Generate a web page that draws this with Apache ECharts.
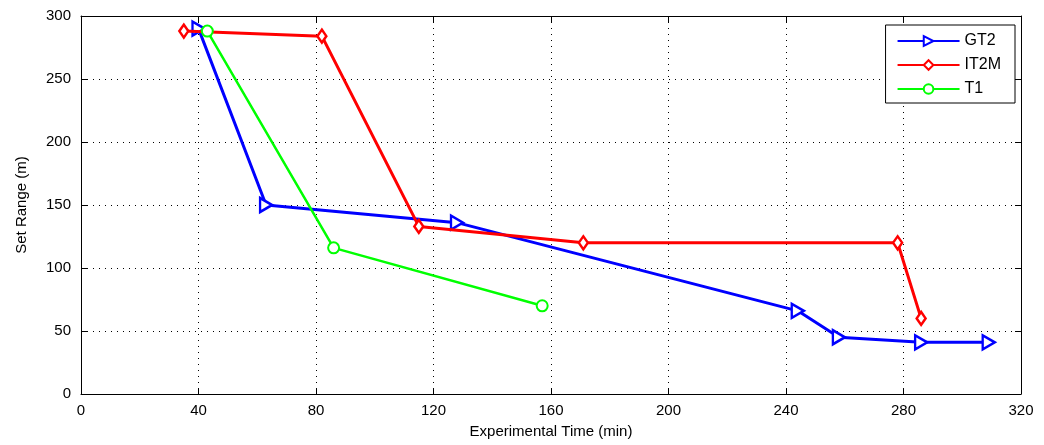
<!DOCTYPE html>
<html><head><meta charset="utf-8">
<script src="https://cdn.jsdelivr.net/npm/echarts@6/dist/echarts.min.js"></script>
<style>html,body{margin:0;padding:0;background:#fff}#c{width:1044px;height:445px}</style>
</head><body><div id="c"></div>
<script>
const seriesNames = ['GT2', 'IT2M', 'T1'];
const gt2 = [[40, 290], [63, 150], [128, 136], [244, 66], [258, 45], [286, 41], [309, 41]];
const it2m = [[35, 288], [82, 284], [115, 133], [171, 120], [278, 120], [286, 60]];
const t1 = [[43, 288], [86, 116], [157, 70]];
const xTicks = [0, 40, 80, 120, 160, 200, 240, 280, 320];
const yTicks = [0, 50, 100, 150, 200, 250, 300];

const FONT = "'Liberation Sans',Arial,sans-serif";
const chart = echarts.init(document.getElementById('c'), null, {renderer: 'canvas'});
const axisCommon = {
  axisLine: {show: true, onZero: false, lineStyle: {color: '#000', width: 1}},
  axisTick: {show: true, inside: true, length: 6, lineStyle: {color: '#000'}},
};
chart.setOption({
  animation: false,
  grid: {left: 81, right: 23, top: 16, bottom: 51, show: false},
  legend: {
    orient: 'vertical', right: 29, top: 25,
    data: seriesNames,
    itemWidth: 62, itemHeight: 12, itemGap: 8,
    padding: [8, 14, 6, 11],
    borderColor: '#000', borderWidth: 1, backgroundColor: '#fff',
    textStyle: {fontFamily: FONT, fontSize: 16, color: '#000'}
  },
  xAxis: [{
    type: 'value', min: xTicks[0], max: xTicks[xTicks.length - 1], interval: 40,
    name: 'Experimental Time (min)', nameLocation: 'middle', nameGap: 30,
    nameTextStyle: {fontFamily: FONT, fontSize: 15, color: '#000'},
    axisLabel: {fontFamily: FONT, fontSize: 15, color: '#000', margin: 9},
    splitLine: {show: true, lineStyle: {color: '#000', type: [1, 5], width: 1}},
    ...axisCommon
  }, {
    type: 'value', position: 'top', min: 0, max: 320, interval: 40,
    axisLabel: {show: false}, splitLine: {show: false}, ...axisCommon
  }],
  yAxis: [{
    type: 'value', min: yTicks[0], max: yTicks[yTicks.length - 1], interval: 50,
    name: 'Set Range (m)', nameLocation: 'middle', nameGap: 52, nameRotate: 90,
    nameTextStyle: {fontFamily: FONT, fontSize: 15, color: '#000'},
    axisLabel: {fontFamily: FONT, fontSize: 15, color: '#000', margin: 10},
    splitLine: {show: true, lineStyle: {color: '#000', type: [1, 5], width: 1}},
    ...axisCommon
  }, {
    type: 'value', position: 'right', min: 0, max: 300, interval: 50,
    axisLabel: {show: false}, splitLine: {show: false}, ...axisCommon
  }],
  series: [{
    name: 'GT2', type: 'line', data: gt2,
    symbol: 'triangle', symbolRotate: -90, symbolSize: [14, 12],
    lineStyle: {color: '#0000ff', width: 3},
    itemStyle: {color: '#fff', borderColor: '#0000ff', borderWidth: 2.5}, z: 3
  }, {
    name: 'IT2M', type: 'line', data: it2m,
    symbol: 'diamond', symbolSize: [9, 13],
    lineStyle: {color: '#ff0000', width: 3},
    itemStyle: {color: '#fff', borderColor: '#ff0000', borderWidth: 2.5}, z: 4
  }, {
    name: 'T1', type: 'line', data: t1,
    symbol: 'circle', symbolSize: 11,
    lineStyle: {color: '#00ff00', width: 2.5},
    itemStyle: {color: '#fff', borderColor: '#00ff00', borderWidth: 2}, z: 5
  }]
});
</script></body></html>
